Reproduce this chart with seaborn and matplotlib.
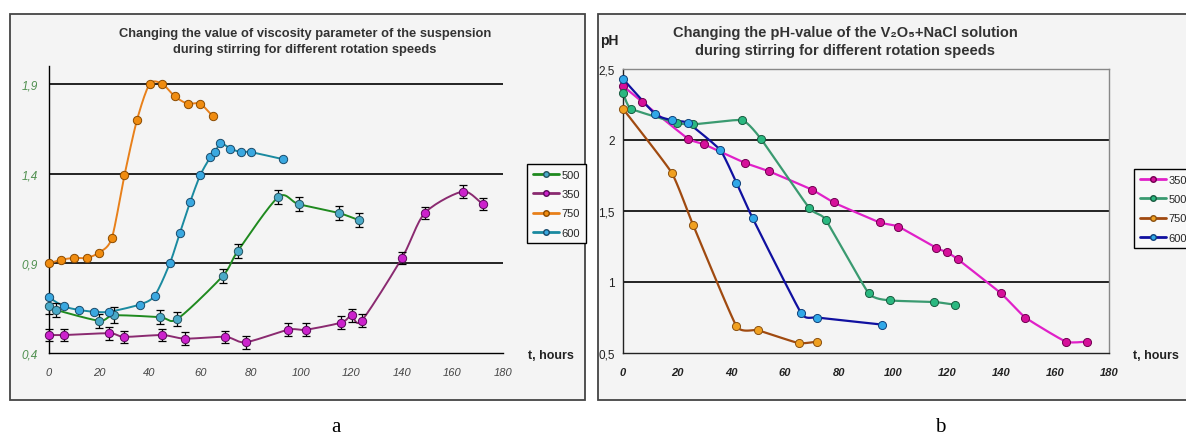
import numpy as np
import matplotlib
matplotlib.use("Agg")
import matplotlib.pyplot as plt
import seaborn as sns
from matplotlib.lines import Line2D
from matplotlib.patches import Rectangle
from matplotlib.ticker import MultipleLocator, FixedLocator

# ---------------- data: panel a (viscosity) ----------------
a_t_500 = [0, 3, 20, 26, 44, 51, 69, 75, 91, 99, 115, 123]
a_v_500 = [0.66, 0.64, 0.58, 0.61, 0.60, 0.59, 0.83, 0.97, 1.27, 1.23, 1.18, 1.14]
a_e_500 = [0.04, 0.04, 0.04, 0.045, 0.04, 0.04, 0.04, 0.04, 0.04, 0.04, 0.04, 0.04]

a_t_350 = [0, 6, 24, 30, 45, 54, 70, 78, 95, 102, 116, 120, 124, 140, 149, 164, 172]
a_v_350 = [0.50, 0.50, 0.51, 0.49, 0.50, 0.48, 0.49, 0.46, 0.53, 0.53, 0.57, 0.61, 0.58, 0.93, 1.18, 1.30, 1.23]
a_e_350 = [0.035] * 17

a_t_750 = [0, 5, 10, 15, 20, 25, 30, 35, 40, 45, 50, 55, 60, 65]
a_v_750 = [0.90, 0.92, 0.93, 0.93, 0.96, 1.04, 1.39, 1.70, 1.90, 1.90, 1.83, 1.79, 1.79, 1.72]

a_t_600 = [0, 6, 12, 18, 24, 36, 42, 48, 52, 56, 60, 64, 66, 68, 72, 76, 80, 93]
a_v_600 = [0.71, 0.66, 0.64, 0.63, 0.63, 0.67, 0.72, 0.90, 1.07, 1.24, 1.39, 1.49, 1.52, 1.57, 1.54, 1.52, 1.52, 1.48]

a_yticks = [0.4, 0.9, 1.4, 1.9]
a_yticklabels = ["0,4", "0,9", "1,4", "1,9"]
xticks = [0, 20, 40, 60, 80, 100, 120, 140, 160, 180]

# ---------------- data: panel b (pH) ----------------
b_t_350 = [0, 7, 24, 30, 45, 54, 70, 78, 95, 102, 116, 120, 124, 140, 149, 164, 172]
b_v_350 = [2.38, 2.27, 2.01, 1.97, 1.84, 1.78, 1.65, 1.56, 1.42, 1.39, 1.24, 1.21, 1.16, 0.92, 0.75, 0.58, 0.58]

b_t_500 = [0, 3, 20, 26, 44, 51, 69, 75, 91, 99, 115, 123]
b_v_500 = [2.33, 2.22, 2.12, 2.11, 2.14, 2.01, 1.52, 1.44, 0.92, 0.87, 0.86, 0.84]

b_t_750 = [0, 18, 26, 42, 50, 65, 72]
b_v_750 = [2.22, 1.77, 1.40, 0.69, 0.66, 0.57, 0.58]

b_t_600 = [0, 12, 18, 24, 36, 42, 48, 66, 72, 96]
b_v_600 = [2.43, 2.18, 2.14, 2.12, 1.93, 1.70, 1.45, 0.78, 0.75, 0.70]

b_yticks = [0.5, 1.0, 1.5, 2.0, 2.5]
b_yticklabels = ["0,5", "1", "1,5", "2", "2,5"]

# ---------------- style ----------------
sns.set_theme(style="white")
plt.rcParams["font.family"] = ["Liberation Sans", "DejaVu Sans"]

W, H = 1186, 439
fig = plt.figure(figsize=(W / 100, H / 100), dpi=100)
fig.patch.set_facecolor("white")


def fx(px):
    return px / W


def fy(py):
    return 1 - py / H


# background frames
fig.add_artist(Rectangle((fx(10), fy(401)), fx(575), 386 / H, transform=fig.transFigure,
                         fc="#f4f4f4", ec="#444444", lw=1.3, zorder=0))
fig.add_artist(Rectangle((fx(598), fy(401)), fx(620), 386 / H, transform=fig.transFigure,
                         fc="#f4f4f4", ec="#444444", lw=1.3, zorder=0))


def smooth(x, y, sx, sy, c=1.0, n=16):
    """Cardinal spline through the data points (computed in pixel space)."""
    P = np.column_stack([np.asarray(x, float) * sx, np.asarray(y, float) * sy])
    P = np.vstack([2 * P[0] - P[1], P, 2 * P[-1] - P[-2]])
    out = []
    t = np.linspace(0, 1, n, endpoint=False)[:, None]
    h00 = 2 * t ** 3 - 3 * t ** 2 + 1
    h10 = t ** 3 - 2 * t ** 2 + t
    h01 = -2 * t ** 3 + 3 * t ** 2
    h11 = t ** 3 - t ** 2
    for i in range(1, len(P) - 2):
        p0, p1, p2, p3 = P[i - 1], P[i], P[i + 1], P[i + 2]
        m1 = c * (p2 - p0) / 2
        m2 = c * (p3 - p1) / 2
        out.append(h00 * p1 + h10 * m1 + h01 * p2 + h11 * m2)
    out.append(P[-2][None, :])
    S = np.vstack(out)
    return S[:, 0] / sx, S[:, 1] / sy


# ================= panel a =================
axL = fig.add_axes([fx(48.7), fy(354), (503 - 48.7) / W, (354 - 67) / H])
axL.set_facecolor("none")
axL.set_xlim(0, 180)
axL.set_ylim(0.4, 2.0)
sxL, syL = (503 - 48.7) / 180, (354 - 67) / 1.6

a_series = [
    ("500", a_t_500, a_v_500, a_e_500, "#1f8a1f", "#4aaac8", "#24525e"),
    ("350", a_t_350, a_v_350, a_e_350, "#8a2a70", "#cc22cc", "#5a0a5a"),
    ("750", a_t_750, a_v_750, None, "#e8801a", "#f08c10", "#8a4a00"),
    ("600", a_t_600, a_v_600, None, "#1a8aa0", "#3aa8e0", "#1a4a6a"),
]
for lab, t, v, e, lc, mc, ec in a_series:
    xs, ys = smooth(t, v, sxL, syL, c=0.8)
    sns.lineplot(x=xs, y=ys, sort=False, estimator=None, ax=axL, color=lc, lw=1.4, zorder=2)
    if e is not None:
        axL.errorbar(t, v, yerr=e, fmt="none", ecolor="black", elinewidth=0.9,
                     capsize=3, capthick=0.9, zorder=3, clip_on=False)
    sns.scatterplot(x=t, y=v, ax=axL, color=mc, edgecolor=ec, linewidth=0.7, s=36,
                    zorder=4, clip_on=False)

for sp in ["top", "right"]:
    axL.spines[sp].set_visible(False)
for sp in ["left", "bottom"]:
    axL.spines[sp].set_color("black")
    axL.spines[sp].set_linewidth(1.0)

axL.yaxis.set_major_locator(FixedLocator(a_yticks))
axL.set_yticklabels(a_yticklabels)
axL.yaxis.set_minor_locator(MultipleLocator(0.1))
axL.xaxis.set_major_locator(FixedLocator(xticks))
axL.set_xticklabels([str(v) for v in xticks])
axL.xaxis.set_minor_locator(MultipleLocator(5))
axL.grid(False)
for yv in a_yticks[1:]:
    axL.axhline(yv, color="black", lw=1.2, zorder=1)
axL.tick_params(axis="both", which="both", direction="in", color="black", width=0.8)
axL.tick_params(axis="both", which="major", length=4)
axL.tick_params(axis="both", which="minor", length=3)
axL.tick_params(axis="y", pad=8, labelsize=8.5, labelcolor="#4e8f4e")
axL.tick_params(axis="x", pad=10, labelsize=8, labelcolor="#444444")
for tl in axL.get_yticklabels() + axL.get_xticklabels():
    tl.set_fontstyle("italic")
axL.set_xlabel("")
axL.set_ylabel("")

fig.text(fx(305), fy(42),
         "Changing the value of viscosity parameter of the suspension\nduring stirring for different rotation speeds",
         ha="center", va="center", multialignment="center", fontsize=9.3, fontweight="bold",
         color="#333333", linespacing=1.4)
fig.text(fx(528), fy(356), "t, hours", ha="left", va="center", fontsize=9,
         fontweight="bold", color="#222222")

hL = [Line2D([], [], color=lc, lw=2, marker="o", ms=4, mfc=mc, mec=ec)
      for lab, t, v, e, lc, mc, ec in a_series]
fig.legend(hL, [s[0] for s in a_series], loc="upper left",
           bbox_to_anchor=(fx(527), fy(165)), frameon=True, fancybox=False,
           edgecolor="black", facecolor="#f8f8f8", framealpha=1, fontsize=8,
           handlelength=2.4, handletextpad=0.2, labelspacing=0.85, borderpad=0.5,
           borderaxespad=0)

# ================= panel b =================
axR = fig.add_axes([fx(623), fy(354), (1109 - 623) / W, (354 - 70) / H])
axR.set_facecolor("none")
axR.set_xlim(0, 180)
axR.set_ylim(0.5, 2.5)
sxR, syR = (1109 - 623) / 180, (354 - 70) / 2.0

b_series = [
    ("350", b_t_350, b_v_350, "#e020c8", "#d6109a", "#700050"),
    ("500", b_t_500, b_v_500, "#3a9a70", "#2ab880", "#1a5a40"),
    ("750", b_t_750, b_v_750, "#a04a10", "#f0a020", "#8a5010"),
    ("600", b_t_600, b_v_600, "#1010a0", "#30a8e8", "#10407a"),
]
for lab, t, v, lc, mc, ec in b_series:
    xs, ys = smooth(t, v, sxR, syR, c=0.45)
    sns.lineplot(x=xs, y=ys, sort=False, estimator=None, ax=axR, color=lc, lw=1.6, zorder=2)
    sns.scatterplot(x=t, y=v, ax=axR, color=mc, edgecolor=ec, linewidth=0.7, s=34,
                    zorder=4, clip_on=False)

for sp in ["top", "right"]:
    axR.spines[sp].set_color("#888888")
    axR.spines[sp].set_linewidth(1.0)
for sp in ["left", "bottom"]:
    axR.spines[sp].set_color("#222222")
    axR.spines[sp].set_linewidth(1.0)

axR.yaxis.set_major_locator(FixedLocator(b_yticks))
axR.set_yticklabels(b_yticklabels)
axR.yaxis.set_minor_locator(MultipleLocator(0.1))
axR.xaxis.set_major_locator(FixedLocator(xticks))
axR.set_xticklabels([str(v) for v in xticks])
axR.xaxis.set_minor_locator(MultipleLocator(5))
axR.grid(False)
for yv in b_yticks[1:-1]:
    axR.axhline(yv, color="black", lw=1.2, zorder=1)
axR.tick_params(axis="both", which="both", direction="in", color="black", width=0.8)
axR.tick_params(axis="both", which="major", length=4)
axR.tick_params(axis="both", which="minor", length=3)
axR.tick_params(axis="y", pad=6, labelsize=8.5, labelcolor="#222222")
axR.tick_params(axis="x", pad=10, labelsize=8, labelcolor="#222222")
for tl in axR.get_xticklabels():
    tl.set_fontstyle("italic")
    tl.set_fontweight("bold")
axR.set_xlabel("")
axR.set_ylabel("")

fig.text(fx(845), fy(42),
         "Changing the pH-value of the V₂O₅+NaCl solution\nduring stirring for different rotation speeds",
         ha="center", va="center", multialignment="center", fontsize=10.5, fontweight="bold",
         color="#333333", linespacing=1.3)
fig.text(fx(600), fy(41), "pH", ha="left", va="center", fontsize=10,
         fontweight="bold", color="#222222")
fig.text(fx(1133), fy(356), "t, hours", ha="left", va="center", fontsize=9,
         fontweight="bold", color="#222222")

hR = [Line2D([], [], color=lc, lw=2, marker="o", ms=4, mfc=mc, mec=ec)
      for lab, t, v, lc, mc, ec in b_series]
fig.legend(hR, [s[0] for s in b_series], loc="upper left",
           bbox_to_anchor=(fx(1134), fy(170)), frameon=True, fancybox=False,
           edgecolor="black", facecolor="#f8f8f8", framealpha=1, fontsize=8,
           handlelength=2.4, handletextpad=0.2, labelspacing=0.85, borderpad=0.5,
           borderaxespad=0)

# panel letters
fig.text(fx(336), fy(428), "a", ha="center", va="center", fontsize=15,
         family="Liberation Serif", color="black")
fig.text(fx(940), fy(428), "b", ha="center", va="center", fontsize=15,
         family="Liberation Serif", color="black")

fig.savefig("out.png", dpi=100, facecolor="white")
